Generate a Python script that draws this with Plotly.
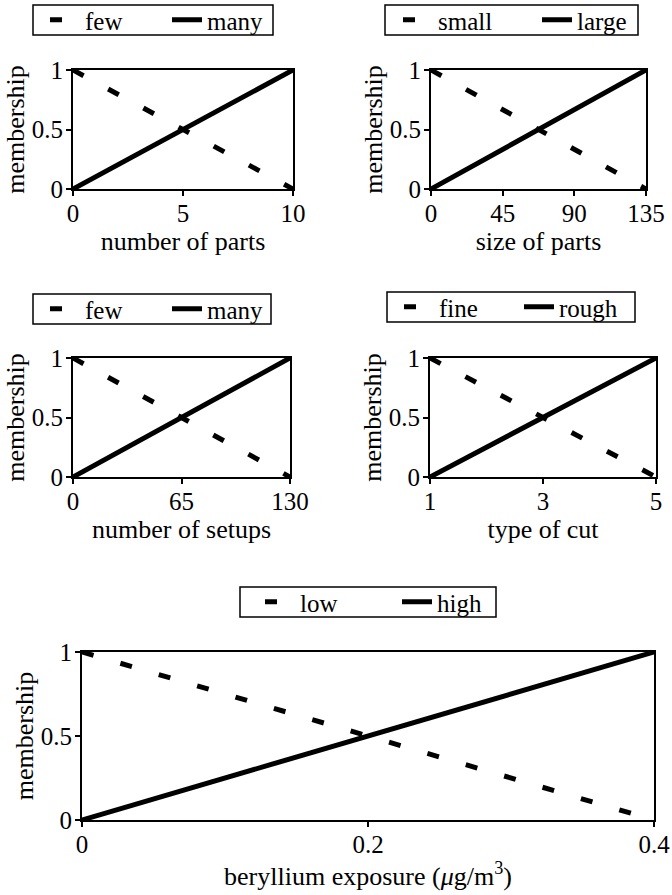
import plotly.graph_objects as go

# x values of the two end points of each membership function
parts_x = [0, 10]
size_x = [0, 135]
setups_x = [0, 130]
cut_x = [1, 5]
beryllium_x = [0, 0.4]

# membership values at those end points
falling = [1, 0]
rising = [0, 1]

x_data = [parts_x, size_x, setups_x, cut_x, beryllium_x]
names = [("few", "many"), ("small", "large"), ("few", "many"), ("fine", "rough"), ("low", "high")]
x_titles = ["number of parts", "size of parts", "number of setups", "type of cut",
            "beryllium exposure (<i>μ</i>g/m<sup>3</sup>)"]
x_ticks = [[0, 5, 10], [0, 45, 90, 135], [0, 65, 130], [1, 3, 5], [0, 0.2, 0.4]]
x_ticktext = [["0", "5", "10"], ["0", "45", "90", "135"], ["0", "65", "130"], ["1", "3", "5"], ["0", "0.2", "0.4"]]
y_ticks = [0, 0.5, 1]
y_ticktext = ["0", "0.5", "1"]

W, H = 672, 895
FONT = "Times New Roman, Liberation Serif, serif"
BLACK = "black"


def px(x):
    return x / W


def py(y):
    return 1 - y / H


# pixel boxes of plot areas and legend frames
plot_x = [(73, 293), (431, 646), (73, 290), (430, 656), (82, 654)]
plot_y = [(70, 189), (70, 189), (358, 477), (358, 477), (652, 820)]
legend_box = [(33, 5, 273, 35), (385, 5, 638, 35), (33, 294, 271, 324),
              (387, 292, 635, 322), (240, 587, 496, 617)]
legend_text_x = [90, 443, 90, 444, 305]
legend_entry = [77, 94, 77, 75, 92]
title_gap = [1, 1, 1, 1, 10]

fig = go.Figure()
layout = {}
shapes = []

for i in range(5):
    s = "" if i == 0 else str(i + 1)
    lo, hi = names[i]
    fig.add_trace(go.Scatter(x=x_data[i], y=falling, name=lo, mode="lines",
                             line=dict(color=BLACK, width=5, dash="12px,28px"),
                             xaxis="x" + s, yaxis="y" + s, legend="legend" + s))
    fig.add_trace(go.Scatter(x=x_data[i], y=rising, name=hi, mode="lines",
                             line=dict(color=BLACK, width=5),
                             xaxis="x" + s, yaxis="y" + s, legend="legend" + s))

    x0, x1 = plot_x[i]
    y0, y1 = plot_y[i]
    layout["xaxis" + s] = dict(
        domain=[px(x0), px(x1)], anchor="y" + s, automargin=False,
        range=[x_data[i][0], x_data[i][-1]],
        tickvals=x_ticks[i], ticktext=x_ticktext[i],
        ticks="outside", ticklen=5, tickwidth=1.5, tickcolor=BLACK,
        ticklabelstandoff=-4,
        showline=True, linecolor=BLACK, linewidth=2, mirror=True,
        showgrid=False, zeroline=False,
        tickfont=dict(family=FONT, size=25, color=BLACK),
        title=dict(text=x_titles[i], font=dict(family=FONT, size=26, color=BLACK),
                   standoff=title_gap[i]),
    )
    layout["yaxis" + s] = dict(
        domain=[py(y1), py(y0)], anchor="x" + s, automargin=False,
        range=[0, 1], tickvals=y_ticks, ticktext=y_ticktext,
        ticks="outside", ticklen=5, tickwidth=1.5, tickcolor=BLACK,
        ticklabelstandoff=-2,
        showline=True, linecolor=BLACK, linewidth=2, mirror=True,
        showgrid=False, zeroline=False,
        tickfont=dict(family=FONT, size=25, color=BLACK),
        title=dict(text="membership", font=dict(family=FONT, size=26, color=BLACK), standoff=0),
    )

    bx0, by0, bx1, by1 = legend_box[i]
    layout["legend" + s] = dict(
        x=px(legend_text_x[i] - 45), y=py((by0 + by1) / 2), xanchor="left", yanchor="middle",
        orientation="h", borderwidth=0, bgcolor="rgba(0,0,0,0)",
        entrywidth=legend_entry[i], entrywidthmode="pixels",
        font=dict(family=FONT, size=25, color=BLACK),
    )
    shapes.append(dict(type="rect", xref="paper", yref="paper",
                       x0=px(bx0), x1=px(bx1), y0=py(by1), y1=py(by0),
                       line=dict(color=BLACK, width=1.5)))

fig.update_layout(
    width=W, height=H,
    margin=dict(l=0, r=0, t=0, b=0, autoexpand=False),
    plot_bgcolor="white", paper_bgcolor="white",
    shapes=shapes,
    **layout,
)

# drop the browser's default 8px body margin so the figure sits at the page corner
fig.write_html("out.html", config={"displayModeBar": False},
               post_script="document.body.style.margin = '0';")
